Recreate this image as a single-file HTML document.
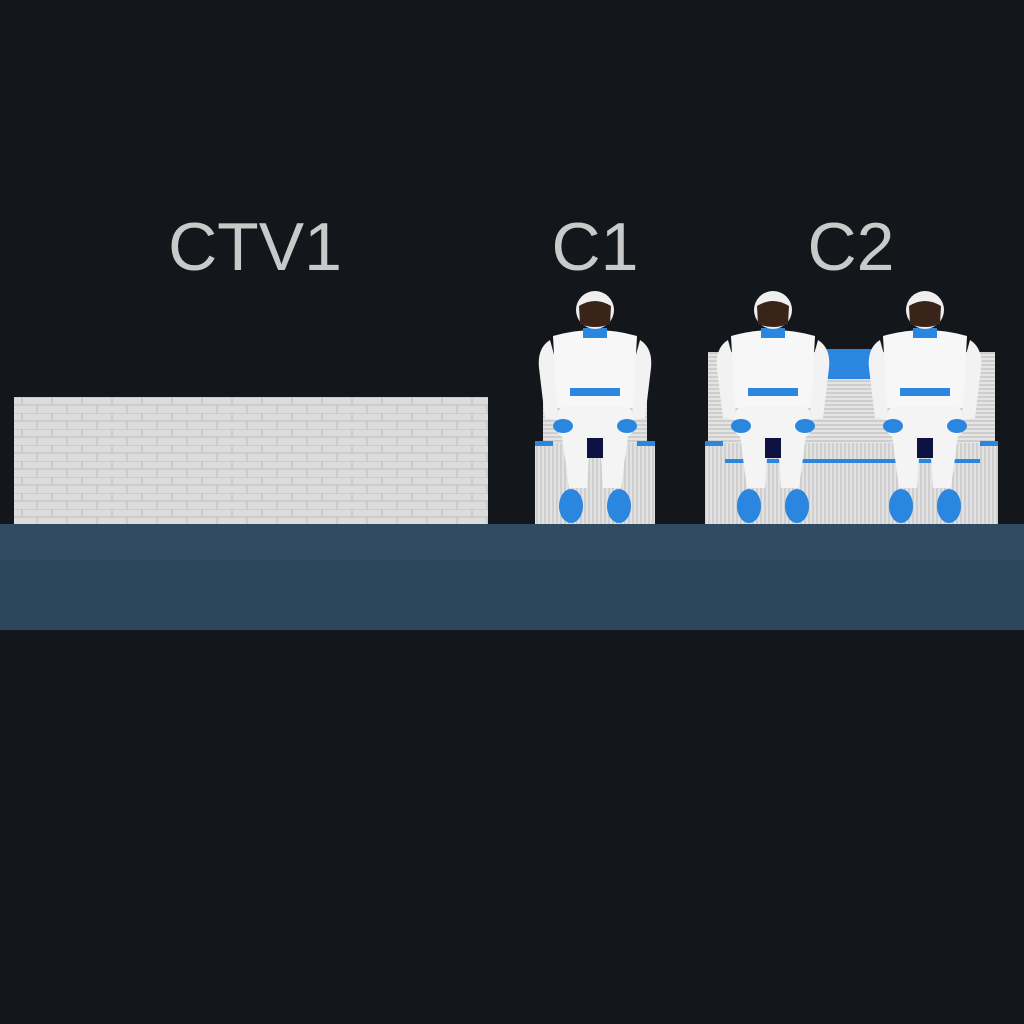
<!DOCTYPE html>
<html><head><meta charset="utf-8"><style>
html,body{margin:0;padding:0;background:#13161a;}
svg{display:block}
text{font-family:"Liberation Sans",sans-serif;fill:#c9c9c9;font-size:68px;}
</style></head><body>
<svg width="1024" height="1024" viewBox="0 0 1024 1024" xmlns="http://www.w3.org/2000/svg">
<defs>
<pattern id="brick" x="14" y="397" width="30" height="16" patternUnits="userSpaceOnUse">
<rect width="30" height="16" fill="#dcdcdc"/>
<path d="M0 0H30M0 8H30M8 0V8M23 8V16" stroke="#bdbdbd" stroke-width="1"/>
</pattern>
<pattern id="lines" width="6" height="4" patternUnits="userSpaceOnUse">
<rect width="6" height="4" fill="#e4e4e4"/><path d="M0 1H6" stroke="#b9b9b9" stroke-width="1"/>
</pattern>
<pattern id="vlines" width="4" height="6" patternUnits="userSpaceOnUse">
<rect width="4" height="6" fill="#e2e2e2"/><path d="M1 0V6" stroke="#bcbcbc" stroke-width="1"/>
</pattern>
<g id="astro">
<!-- arms -->
<path d="M-45 52 Q-58 60 -56 80 L-50 130 L-38 132 L-36 85 Z" fill="#f2f2f2"/>
<path d="M45 52 Q58 60 56 80 L50 130 L38 132 L36 85 Z" fill="#f2f2f2"/>
<!-- torso -->
<path d="M-42 48 Q0 36 42 48 L38 120 L-38 120 Z" fill="#f7f7f7"/>
<rect x="-25" y="100" width="50" height="8" fill="#2b86e0"/>
<!-- legs -->
<path d="M-34 140 L-4 140 L-8 200 L-26 200 Z" fill="#f4f4f4"/>
<path d="M34 140 L4 140 L8 200 L26 200 Z" fill="#f4f4f4"/>
<rect x="-8" y="150" width="16" height="20" fill="#0d1240"/>
<rect x="-38" y="118" width="76" height="32" rx="10" fill="#f4f4f4"/>
<!-- hands -->
<ellipse cx="-32" cy="138" rx="10" ry="7" fill="#2b86e0"/>
<ellipse cx="32" cy="138" rx="10" ry="7" fill="#2b86e0"/>
<!-- feet -->
<ellipse cx="-24" cy="218" rx="12" ry="17" fill="#2b86e0"/>
<ellipse cx="24" cy="218" rx="12" ry="17" fill="#2b86e0"/>
<!-- neck -->
<rect x="-12" y="40" width="24" height="10" fill="#2b86e0"/>
<!-- helmet -->
<circle cx="0" cy="22" r="19" fill="#efefef"/>
<path d="M-16 18 Q0 8 16 18 L15 36 Q0 42 -15 36 Z" fill="#3a2419"/>
</g>
</defs>
<!-- floor -->
<rect x="0" y="524" width="1024" height="106" fill="#2f4a61"/>
<rect x="0" y="560" width="1024" height="70" fill="#2c4559" opacity="0.7"/>
<!-- labels -->
<text x="255" y="270" text-anchor="middle">CTV1</text>
<text x="595" y="270" text-anchor="middle">C1</text>
<text x="851" y="270" text-anchor="middle">C2</text>
<!-- CTV1 box -->
<rect x="14" y="397" width="474" height="127" fill="url(#brick)"/>
<!-- C1 chair -->
<rect x="543" y="355" width="104" height="92" fill="url(#lines)"/>
<rect x="535" y="443" width="120" height="81" fill="url(#vlines)"/>
<rect x="535" y="441" width="18" height="5" fill="#2b86e0"/>
<rect x="637" y="441" width="18" height="5" fill="#2b86e0"/>
<!-- C2 sofa -->
<rect x="708" y="352" width="287" height="98" fill="url(#lines)"/>
<rect x="815" y="349" width="66" height="30" fill="#2b86e0"/>
<rect x="705" y="443" width="293" height="81" fill="url(#vlines)"/>
<rect x="725" y="459" width="255" height="4" fill="#2b86e0"/>
<rect x="705" y="441" width="18" height="5" fill="#2b86e0"/>
<rect x="980" y="441" width="18" height="5" fill="#2b86e0"/>
<!-- astronauts -->
<use href="#astro" x="595" y="288"/>
<use href="#astro" x="773" y="288"/>
<use href="#astro" x="925" y="288"/>
</svg>
</body></html>
